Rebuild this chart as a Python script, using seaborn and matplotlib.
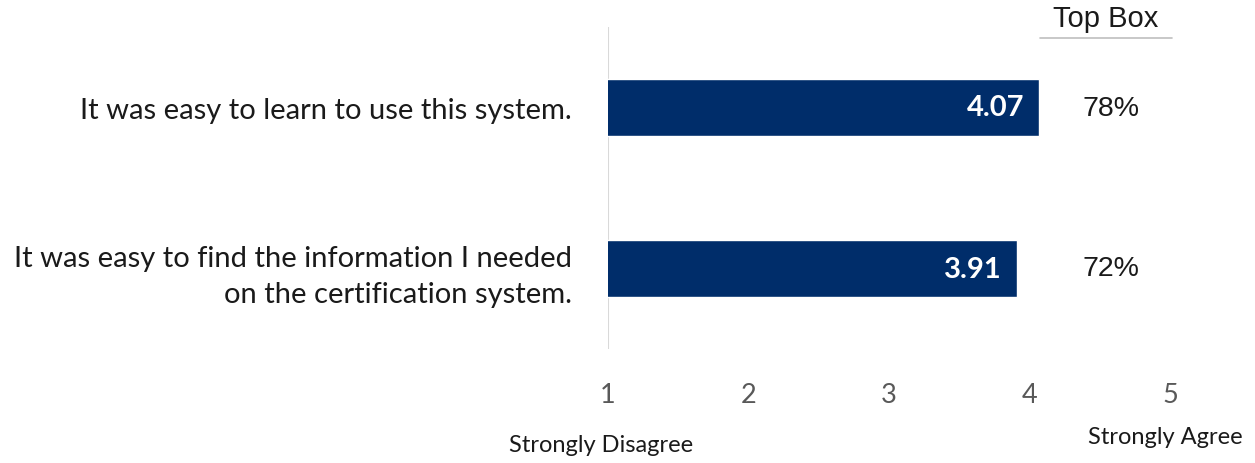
import matplotlib
matplotlib.use("Agg")
import matplotlib.pyplot as plt
import matplotlib.transforms as mtransforms
import seaborn as sns
import pandas as pd

statements = [
    "It was easy to learn to use this system.",
    "It was easy to find the information I needed\non the certification system.",
]
mean_scores = [4.07, 3.91]
top_box = ["78%", "72%"]
scale_ticks = [1, 2, 3, 4, 5]
scale_ends = ["Strongly Disagree", "Strongly Agree"]

navy = "#002D6A"
sns.set_theme(style="white")
plt.rcParams["font.family"] = ["Lato", "DejaVu Sans"]

df = pd.DataFrame({"statement": statements, "score": mean_scores})

fig = plt.figure(figsize=(12.55, 4.64), dpi=100)
ax = fig.add_axes([608 / 1255, 1 - 350 / 464, (1170 - 608) / 1255, (350 - 28) / 464])

sns.barplot(data=df, x="score", y="statement", color=navy, width=0.36,
            saturation=1, orient="h", ax=ax)

ax.set_xlim(1, 5)
ax.set_ylim(1.5, -0.5)
ax.set_xticks(scale_ticks)
ax.set_xticklabels([str(t) for t in scale_ticks])
ax.set_xlabel("")
ax.set_ylabel("")
for s in ["top", "right", "bottom", "left"]:
    ax.spines[s].set_visible(False)
ax.axvline(1, color="#d9d9d9", lw=1.5, zorder=0)

ax.tick_params(axis="x", length=0, pad=24, labelsize=19.5, labelcolor="#595959")
ax.tick_params(axis="y", length=0, pad=26, labelsize=21, labelcolor="#1a1a1a")
for lbl in ax.get_yticklabels():
    lbl.set_horizontalalignment("right")
    lbl.set_multialignment("right")
    lbl.set_linespacing(1.5)

# mean score printed inside the end of each bar
for i, v in enumerate(mean_scores):
    ax.annotate(f"{v:.2f}", xy=(v, i), xytext=(-11, 0), textcoords="offset points",
                ha="right", va="center", color="white", fontsize=21,
                fontweight="bold")

# top-box percentages to the right of the bars
for i, pct in enumerate(top_box):
    ax.text(4.58, i, pct, ha="center", va="center", fontsize=20.5,
            family=["Liberation Sans"], color="#1a1a1a")

trans = mtransforms.blended_transform_factory(ax.transData, ax.transAxes)
ax.text(4.54, 1.027, "Top Box", transform=trans, ha="center", va="center",
        fontsize=21, family=["Liberation Sans"], color="#1a1a1a", clip_on=False)
ax.plot([4.075, 5.014], [0.966, 0.966], transform=trans, color="#bfbfbf",
        lw=1.2, clip_on=False)

fig.text(601 / 1255, 1 - 446 / 464, scale_ends[0], ha="center", va="center",
         fontsize=17, color="#1a1a1a")
fig.text(1165 / 1255, 1 - 438 / 464, scale_ends[1], ha="center", va="center",
         fontsize=17, color="#1a1a1a")

fig.savefig("out.png", dpi=100, facecolor="white")
